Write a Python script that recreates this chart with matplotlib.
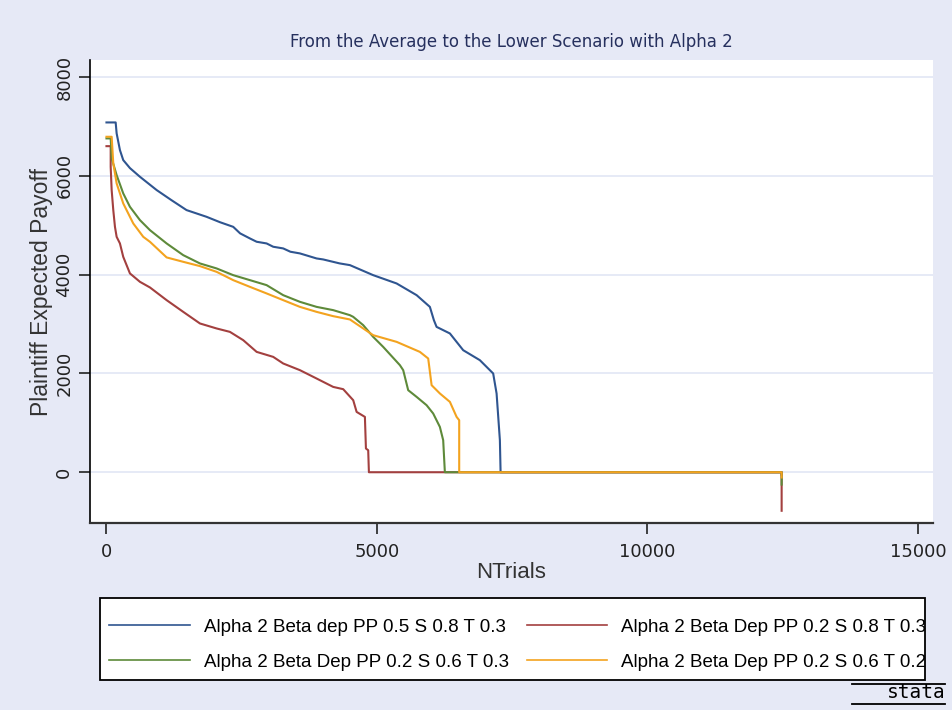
import matplotlib.pyplot as plt
from matplotlib.lines import Line2D
from matplotlib.patches import Rectangle

# series (NTrials, payoff)
blue_x = [0, 170, 188, 249, 310, 434, 619, 928, 1200, 1480, 1850, 2100, 2343, 2470, 2652, 2776,
          2960, 3082, 3267, 3400, 3576, 3884, 4006, 4309, 4500, 4930, 5363, 5733, 5978, 6052, 6102,
          6348, 6594, 6902, 7148, 7211, 7272, 7285, 12480, 12480]
blue_y = [7080, 7080, 6859, 6520, 6318, 6156, 5980, 5711, 5508, 5306, 5170, 5060, 4967, 4835, 4732, 4665,
          4631, 4564, 4530, 4463, 4429, 4327, 4307, 4227, 4192, 3989, 3821, 3584, 3347, 3078, 2942,
          2809, 2470, 2268, 1999, 1594, 648, 0, 0, -50]

red_x = [0, 78, 78, 96, 126, 157, 188, 249, 310, 434, 619, 804, 1112, 1419, 1728, 2036, 2282, 2528,
         2776, 3082, 3267, 3576, 3884, 4191, 4376, 4561, 4624, 4777, 4796, 4838, 4851, 12480, 12480]
red_y = [6600, 6600, 6182, 5711, 5306, 4967, 4765, 4631, 4360, 4024, 3854, 3740, 3483, 3246, 3011, 2910,
         2841, 2673, 2436, 2335, 2201, 2066, 1897, 1727, 1681, 1458, 1221, 1120, 480, 445, 0, 0, -780]

green_x = [0, 78, 96, 188, 310, 434, 619, 804, 1112, 1419, 1728, 2036, 2343, 2652, 2960, 3267, 3576,
           3884, 4191, 4500, 4561, 4746, 4930, 5115, 5424, 5485, 5577, 5733, 5917, 6039, 6163, 6224,
           6255, 12480, 12480]
green_y = [6757, 6757, 6352, 6014, 5644, 5372, 5103, 4900, 4631, 4394, 4226, 4125, 3989, 3888, 3787,
           3584, 3449, 3347, 3281, 3179, 3145, 2977, 2740, 2537, 2167, 2066, 1661, 1525, 1357, 1189,
           917, 648, 0, 0, -250]

orange_x = [0, 96, 126, 188, 310, 495, 680, 804, 1112, 1419, 1728, 2036, 2343, 2652, 2960, 3267, 3576,
            3884, 4191, 4500, 4746, 4930, 5363, 5793, 5947, 6010, 6163, 6348, 6472, 6520, 6520,
            12480, 12480]
orange_y = [6790, 6790, 6251, 5846, 5441, 5036, 4765, 4664, 4348, 4259, 4172, 4056, 3888, 3752, 3619,
            3483, 3347, 3246, 3159, 3092, 2910, 2774, 2639, 2436, 2302, 1762, 1594, 1424, 1120, 1053, 0,
            0, -107]

labels = ["Alpha 2 Beta dep PP 0.5 S 0.8 T 0.3",
          "Alpha 2 Beta Dep PP 0.2 S 0.8 T 0.3",
          "Alpha 2 Beta Dep PP 0.2 S 0.6 T 0.3",
          "Alpha 2 Beta Dep PP 0.2 S 0.6 T 0.2"]
colors = ['#2f5590', '#a3403f', '#5e8a3a', '#f3a31f']

xticks = [0, 5000, 10000, 15000]
yticks = [0, 2000, 4000, 6000, 8000]

bg = '#e6e9f6'
plt.rcParams['font.family'] = ['DejaVu Sans']

fig = plt.figure(figsize=(9.52, 7.10), dpi=100, facecolor=bg)
ax = fig.add_axes([0.0945, 0.263, 0.8855, 0.6525])
ax.set_facecolor('white')

lines = []
for xs, ys, c, lab in zip([blue_x, red_x, green_x, orange_x],
                          [blue_y, red_y, green_y, orange_y], colors, labels):
    l, = ax.plot(xs, ys, color=c, lw=1.5, label=lab)
    lines.append(l)

ax.set_xlim(-305, 15277)
ax.set_ylim(-1033, 8344)
ax.set_xticks(xticks)
ax.set_yticks(yticks)
ax.grid(axis='y', color='#e4e8f6', lw=1.3)
ax.set_axisbelow(True)
for s in ['top', 'right']:
    ax.spines[s].set_visible(False)
ax.spines['left'].set_linewidth(1.2)
ax.spines['bottom'].set_linewidth(1.6)
ax.spines['bottom'].set_color('#333333')
ax.tick_params(axis='both', length=8, width=1.2, labelsize=13, colors='#222222')
ax.tick_params(axis='x', pad=6)
ax.tick_params(axis='y', pad=4)
plt.setp(ax.get_yticklabels(), rotation=90, va='center')

ax.set_title("From the Average to the Lower Scenario with Alpha 2", fontsize=12,
             color='#26305e', pad=9)
ax.set_xlabel("NTrials", fontsize=16, color='#333333', labelpad=1,
              family='Liberation Sans')
ax.set_ylabel("Plaintiff Expected Payoff", fontsize=16.5, color='#333333',
              family='Liberation Sans')
ax.yaxis.set_label_coords(-0.0435, 0.5)

# legend box drawn separately so the entries can sit freely inside it
fig.add_artist(Rectangle((0.105, 0.0423), 0.8666, 0.1155, transform=fig.transFigure,
                         facecolor='white', edgecolor='black', lw=1.3, zorder=1))
order = [0, 2, 1, 3]
leg = fig.legend([lines[i] for i in order], [labels[i] for i in order],
                 loc='upper left', bbox_to_anchor=(0.1145, 0.129), borderaxespad=0,
                 borderpad=0, ncol=2, frameon=False,
                 prop={'family': 'Liberation Sans', 'size': 13.5},
                 handlelength=4.3, handletextpad=0.75, columnspacing=0.96,
                 labelspacing=0.96)
leg.set_zorder(2)
for h in leg.legend_handles:
    h.set_linewidth(1.2)

fig.text(0.993, 0.011, "stata", ha='right', va='bottom', fontsize=14,
         family='DejaVu Sans Mono', color='black')
fig.add_artist(Line2D([0.895, 0.993], [0.037, 0.037], color='black', lw=1.3))
fig.add_artist(Line2D([0.895, 0.993], [0.009, 0.009], color='black', lw=1.3))

fig.savefig('out.png', dpi=100, facecolor=bg)
